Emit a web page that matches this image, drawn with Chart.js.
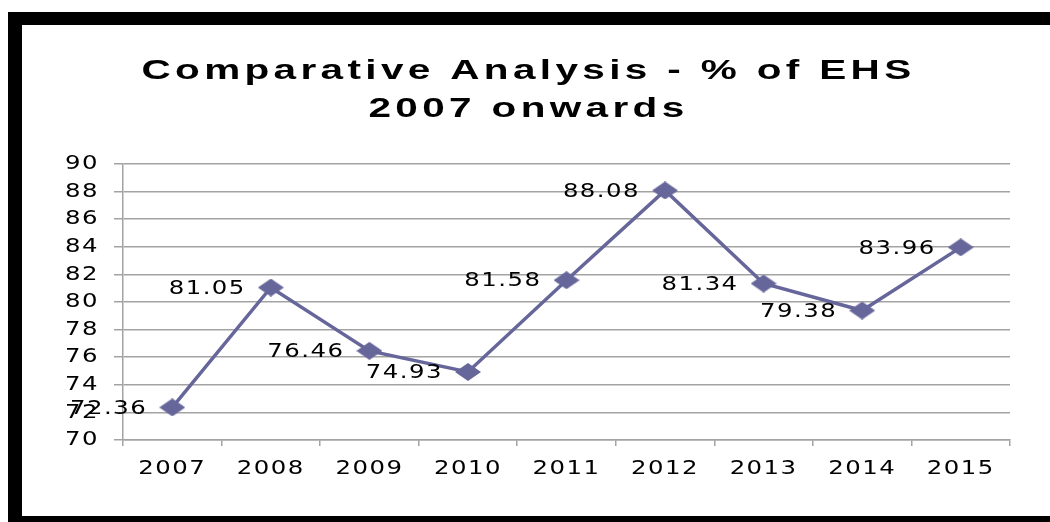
<!DOCTYPE html>
<html>
<head>
<meta charset="utf-8">
<script src="https://cdn.jsdelivr.net/npm/chart.js@4.4.0/dist/chart.umd.min.js"></script>
<style>
  html, body { margin: 0; padding: 0; background: #fff; }
  #frame {
    position: absolute; left: 8px; top: 12px;
    width: 1028px; height: 491px;
    border-top: 13px solid #000; border-left: 14px solid #000; border-bottom: 6px solid #000;
    background: #fff;
  }
  #chart-ehs { display: block; }
</style>
</head>
<body>
<div id="frame"><canvas id="chart-ehs" width="1028" height="491"></canvas></div>
<script>
const years = ['2007', '2008', '2009', '2010', '2011', '2012', '2013', '2014', '2015'];
const ehsPercent = [72.36, 81.05, 76.46, 74.93, 81.58, 88.08, 81.34, 79.38, 83.96];
const yMin = 70;
const yMax = 90;
const yStep = 2;
const chartTitle = ['Comparative Analysis - % of EHS', '2007 onwards'];

const lineColor = '#66669b';
const gridColor = '#a3a3a3';

// flattened diamond, like the original marker
const marker = document.createElement('canvas');
marker.width = 26;
marker.height = 18;
const m = marker.getContext('2d');
m.fillStyle = lineColor;
m.beginPath();
m.moveTo(13, 0); m.lineTo(26, 9); m.lineTo(13, 18); m.lineTo(0, 9);
m.closePath();
m.fill();

const canvas = document.getElementById('chart-ehs');
const ctx = canvas.getContext('2d');

// text in the picture is widened and spaced out, the title more than the labels
const baseFill = ctx.fillText;
ctx.fillText = function (text, x, y, maxWidth) {
    const isTitle = this.font.indexOf('bold') >= 0;
    const sx = isTitle ? 1.5 : 1.22;
    this.save();
    this.letterSpacing = isTitle ? '2.9px' : '1.2px';
    this.translate(x, y);
    this.scale(sx, 1);
    if (maxWidth === undefined) baseFill.call(this, text, 0, 0);
    else baseFill.call(this, text, 0, 0, maxWidth / sx);
    this.restore();
};

const pointLabels = {
    id: 'pointLabels',
    afterDatasetsDraw(chart) {
        const c = chart.ctx;
        const meta = chart.getDatasetMeta(0);
        c.save();
        c.font = '20px "DejaVu Sans"';
        c.fillStyle = '#000';
        c.textAlign = 'right';
        c.textBaseline = 'middle';
        meta.data.forEach((pt, i) => {
            c.fillText(ehsPercent[i].toFixed(2), pt.x - 25, pt.y + 1);
        });
        c.restore();
    }
};

new Chart(canvas, {
    type: 'line',
    data: {
        labels: years,
        datasets: [{
            label: '% of EHS',
            data: ehsPercent,
            borderColor: lineColor,
            backgroundColor: lineColor,
            borderWidth: 3.5,
            tension: 0,
            pointStyle: marker,
            pointRadius: 13,
            pointHoverRadius: 13,
        }]
    },
    options: {
        responsive: false,
        animation: false,
        layout: { padding: { left: 0, right: 15, top: 0, bottom: 0 } },
        plugins: {
            legend: { display: false },
            tooltip: { enabled: false },
            title: {
                display: true,
                text: chartTitle,
                color: '#000',
                font: { family: '"Liberation Sans", Arial, sans-serif', size: 27, weight: 'bold', lineHeight: 38 / 27 },
                padding: { top: 28, bottom: 35 },
            }
        },
        scales: {
            x: {
                offset: true,
                grid: { offset: true, drawOnChartArea: false, color: gridColor, lineWidth: 1.5, tickLength: 6 },
                border: { color: gridColor, width: 1.5 },
                ticks: { color: '#000', padding: 11, font: { family: '"DejaVu Sans"', size: 20 } },
                afterFit: (s) => { s.height = 76; },
            },
            y: {
                min: yMin,
                max: yMax,
                grid: { color: gridColor, lineWidth: 1.5, tickLength: 9 },
                border: { color: gridColor, width: 1.5 },
                ticks: { stepSize: yStep, color: '#000', padding: 15, font: { family: '"DejaVu Sans"', size: 20 } },
                afterFit: (s) => { s.width = 101; },
            },
            spacer: {
                type: 'linear',
                position: 'right',
                grid: { display: false },
                border: { display: false },
                ticks: { display: false },
                afterFit: (s) => { s.width = 25; },
            }
        }
    },
    plugins: [pointLabels]
});
</script>
</body>
</html>
